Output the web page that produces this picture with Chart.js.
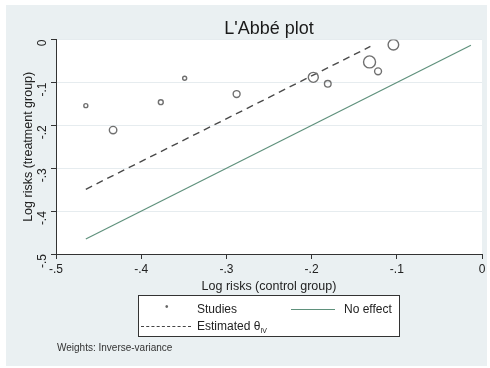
<!DOCTYPE html>
<html>
<head>
<meta charset="utf-8">
<script src="https://cdn.jsdelivr.net/npm/chart.js@4"></script>
<style>
  html, body { margin: 0; padding: 0; background: #fff; }
  #wrap { position: relative; width: 490px; height: 368px; overflow: hidden; font-family: "Liberation Sans", Arial, sans-serif; }
  #region { position: absolute; left: 6px; top: 5px; width: 481px; height: 361px; background: #eaf0f2; }
  #c { position: absolute; left: 0; top: 0; }
  #legend { position: absolute; left: 138px; top: 295px; width: 260px; height: 40px; background: #fff; border: 1px solid #333; font-size: 12px; color: #222; }
  #legend .t { position: absolute; line-height: 14px; }
  #legend .ln { position: absolute; height: 0; }
  #note { position: absolute; left: 57px; top: 342px; font-size: 10px; color: #333; }
</style>
</head>
<body>
<div id="wrap">
  <div id="region"></div>
  <canvas id="c" width="490" height="368"></canvas>
  <div id="legend">
    <div class="t" style="left:26px;top:4px;font-size:10px;color:#666">&#8226;</div>
    <div class="t" style="left:58px;top:6px">Studies</div>
    <div class="ln" style="left:152px;top:13px;width:44px;border-top:1.3px solid #5f917c"></div>
    <div class="t" style="left:205px;top:6px">No effect</div>
    <div class="ln" style="left:2px;top:30px;width:50px;border-top:1.3px dashed #444"></div>
    <div class="t" style="left:58px;top:23px">Estimated &#952;<sub style="font-size:7px">IV</sub></div>
  </div>
  <div id="note">Weights: Inverse-variance</div>
</div>
<script>
// study-level log risks
const controlLogRisk = [-0.465, -0.433, -0.377, -0.349, -0.288, -0.198, -0.181, -0.132, -0.122, -0.104];
const treatLogRisk   = [-0.154, -0.211, -0.146, -0.090, -0.127, -0.088, -0.103, -0.052, -0.074, -0.012];
const studyWeights   = [4, 14, 6, 4, 12, 25, 11, 36, 12, 28];

// fitted line (estimated theta IV) and line of no effect
const estimatedX = [-0.465, -0.131];
const estimatedY = [-0.349, -0.016];
const noEffectX  = [-0.465, -0.013];
const noEffectY  = [-0.465, -0.013];

const xTickValues = [-0.5, -0.4, -0.3, -0.2, -0.1, 0];
const xTickLabels = ["-.5", "-.4", "-.3", "-.2", "-.1", "0"];
const yTickValues = [-0.5, -0.4, -0.3, -0.2, -0.1, 0];
const yTickLabels = ["-.5", "-.4", "-.3", "-.2", "-.1", "0"];

const FONT = "'Liberation Sans', Arial, sans-serif";
const pts = (xs, ys) => xs.map((x, i) => ({ x: x, y: ys[i] }));

const plotBg = {
  id: "plotBg",
  beforeDraw(chart) {
    const { ctx, chartArea: a } = chart;
    ctx.save();
    ctx.fillStyle = "#ffffff";
    ctx.fillRect(a.left, a.top, a.right - a.left, a.bottom - a.top);
    ctx.restore();
  }
};

new Chart(document.getElementById("c"), {
  type: "scatter",
  data: {
    datasets: [
      {
        label: "Studies",
        data: pts(controlLogRisk, treatLogRisk),
        pointRadius: studyWeights.map(w => Math.sqrt(w)),
        pointHoverRadius: studyWeights.map(w => Math.sqrt(w)),
        borderColor: "#707070",
        backgroundColor: "rgba(0,0,0,0)",
        borderWidth: 1.4,
        showLine: false
      },
      {
        label: "Estimated",
        data: pts(estimatedX, estimatedY),
        showLine: true,
        borderColor: "#4a4a4a",
        borderWidth: 1.4,
        borderDash: [7, 5],
        pointRadius: 0
      },
      {
        label: "No effect",
        data: pts(noEffectX, noEffectY),
        showLine: true,
        borderColor: "#5f917c",
        borderWidth: 1.2,
        pointRadius: 0
      }
    ]
  },
  options: {
    responsive: false,
    animation: false,
    layout: { padding: { left: 6, right: 8, top: 0, bottom: 74 } },
    plugins: {
      legend: { display: false },
      tooltip: { enabled: false },
      title: {
        display: true,
        fullSize: false,
        text: "L'Abbé plot",
        color: "#1a1a1a",
        font: { family: FONT, size: 18, weight: "normal" },
        padding: { top: 18, bottom: 0 }
      }
    },
    scales: {
      x: {
        type: "linear",
        min: -0.5,
        max: 0,
        afterBuildTicks: s => { s.ticks = xTickValues.map(v => ({ value: v })); },
        afterFit: s => { s.height = 40; },
        grid: { color: "rgba(0,0,0,0)", tickColor: "#333", tickLength: 5 },
        border: { color: "#333", width: 1 },
        ticks: {
          color: "#222",
          font: { family: FONT, size: 12 },
          padding: 3,
          maxRotation: 0,
          callback: (v, i) => xTickLabels[i]
        },
        title: {
          display: true,
          text: "Log risks (control group)",
          color: "#222",
          font: { family: FONT, size: 12.5 },
          padding: { top: 0, bottom: 0 }
        }
      },
      y: {
        type: "linear",
        min: -0.5,
        max: 0,
        afterBuildTicks: s => { s.ticks = yTickValues.map(v => ({ value: v })); },
        afterFit: s => { s.width = 50; },
        grid: { color: "#e6ecef", tickColor: "#333", tickLength: 5 },
        border: { color: "#333", width: 1 },
        ticks: {
          color: "#222",
          font: { family: FONT, size: 12 },
          padding: 8,
          minRotation: 90,
          maxRotation: 90,
          callback: (v, i) => yTickLabels[i]
        },
        title: {
          display: true,
          text: "Log risks (treatment group)",
          color: "#222",
          font: { family: FONT, size: 12.5 },
          padding: { top: 15, bottom: 0 }
        }
      }
    }
  },
  plugins: [plotBg]
});
</script>
</body>
</html>
